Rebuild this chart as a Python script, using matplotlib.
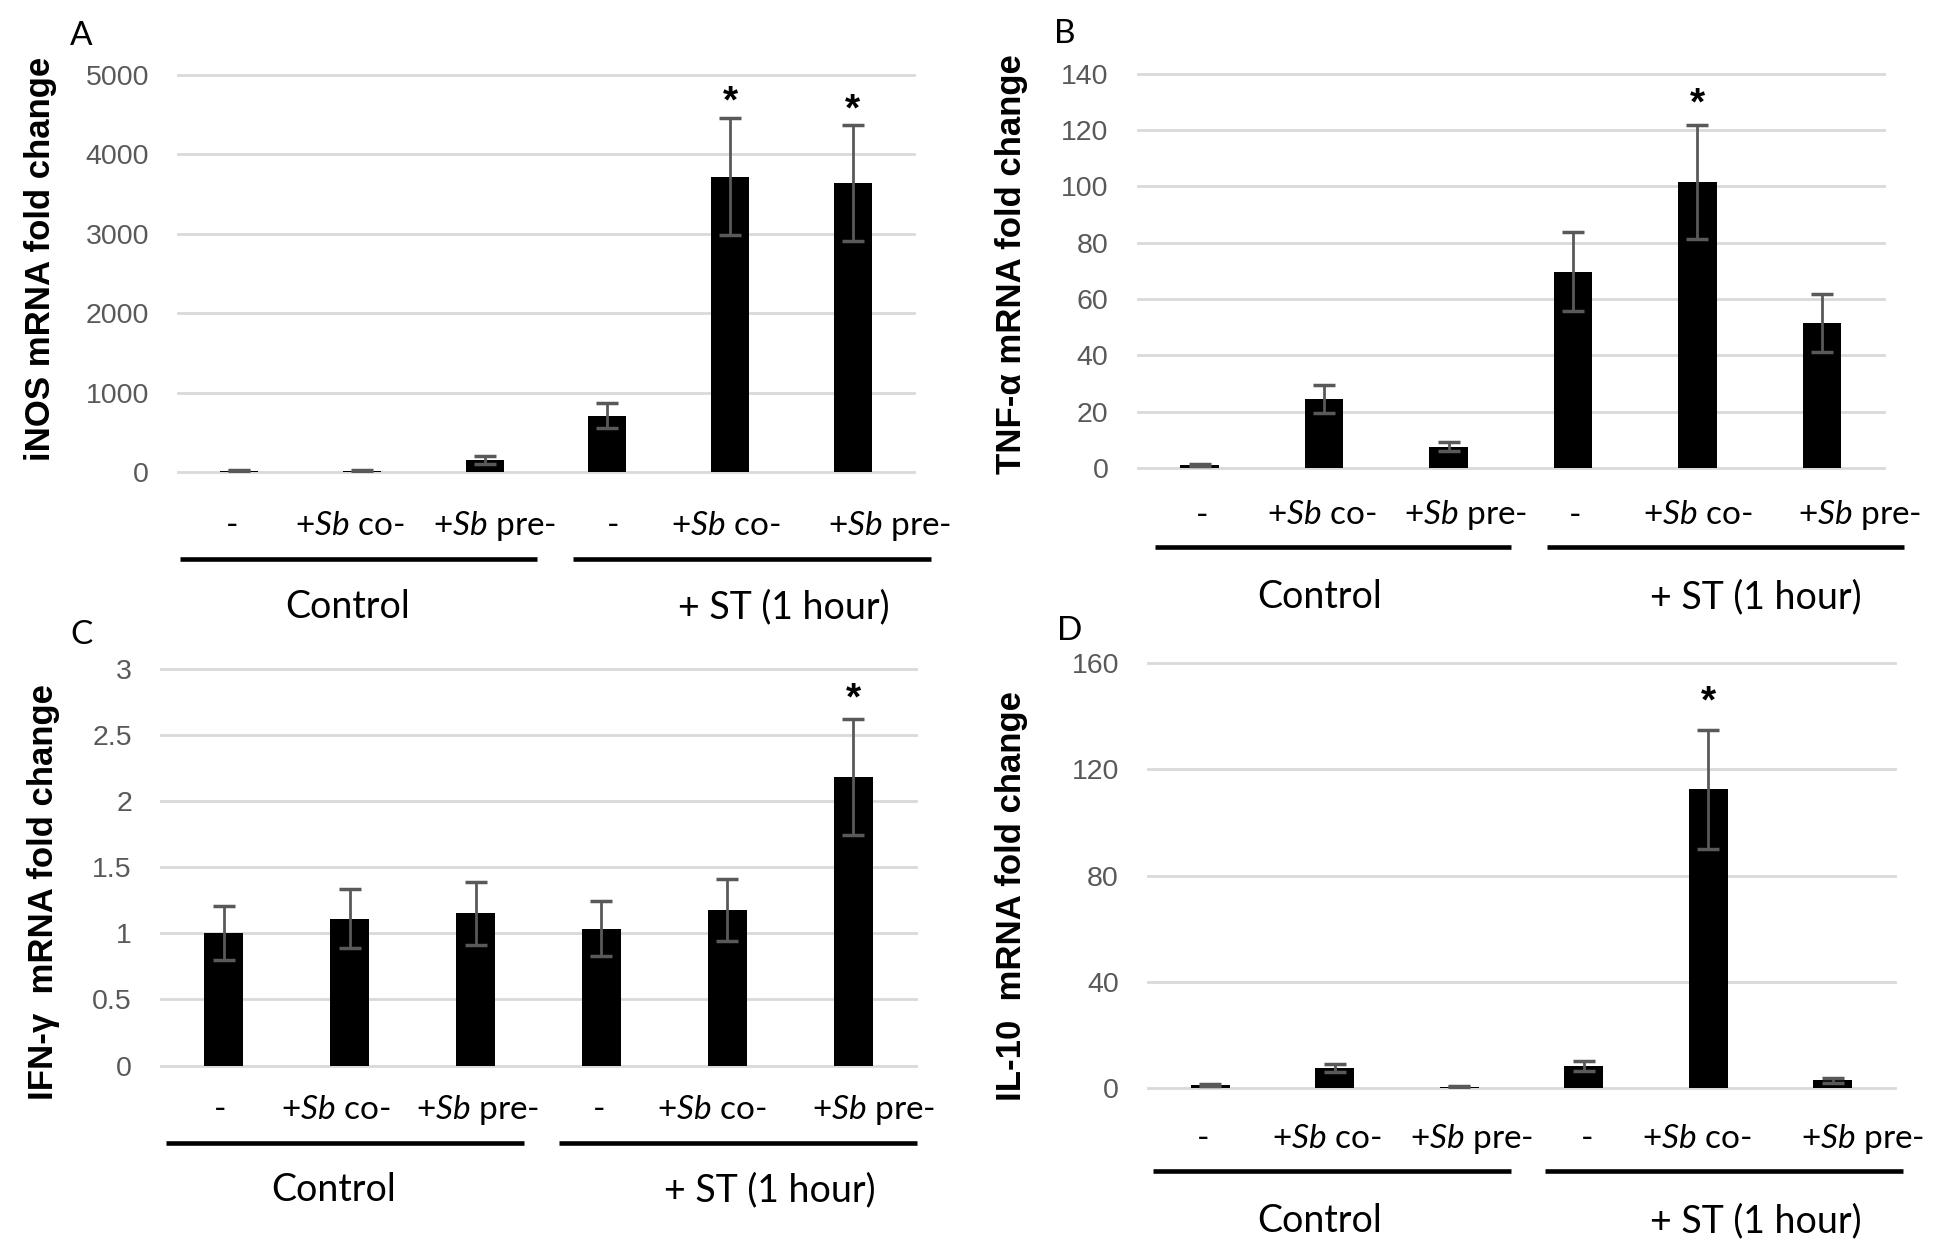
import matplotlib
matplotlib.use("Agg")
import matplotlib.pyplot as plt
from matplotlib.lines import Line2D
import numpy as np

# ---------------- data ----------------
groups = ["Control", "+ ST (1 hour)"]
cat_labels = ["-", "+$\\mathit{Sb}$ co-", "+$\\mathit{Sb}$ pre-",
              "-", "+$\\mathit{Sb}$ co-", "+$\\mathit{Sb}$ pre-"]

A_vals = [15, 18, 149, 708, 3720, 3634]
A_err = [6, 12, 50, 155, 740, 730]
A_sig = [0, 0, 0, 0, 1, 1]
A_ticks = [0, 1000, 2000, 3000, 4000, 5000]
A_ticklabels = ["0", "1000", "2000", "3000", "4000", "5000"]

B_vals = [1.0, 24.5, 7.6, 69.7, 101.5, 51.5]
B_err = [0.4, 5.0, 1.6, 14.0, 20.2, 10.4]
B_sig = [0, 0, 0, 0, 1, 0]
B_ticks = [0, 20, 40, 60, 80, 100, 120, 140]
B_ticklabels = ["0", "20", "40", "60", "80", "100", "120", "140"]

C_vals = [1.0, 1.11, 1.15, 1.035, 1.175, 2.18]
C_err = [0.205, 0.225, 0.238, 0.21, 0.236, 0.44]
C_sig = [0, 0, 0, 0, 0, 1]
C_ticks = [0, 0.5, 1, 1.5, 2, 2.5, 3]
C_ticklabels = ["0", "0.5", "1", "1.5", "2", "2.5", "3"]

D_vals = [1.0, 7.6, 0.5, 8.2, 112.4, 2.9]
D_err = [0.4, 1.5, 0.3, 1.9, 22.4, 1.0]
D_sig = [0, 0, 0, 0, 1, 0]
D_ticks = [0, 40, 80, 120, 160]
D_ticklabels = ["0", "40", "80", "120", "160"]

ylabels = ["iNOS mRNA fold change", "TNF-\u03b1 mRNA fold change",
           "IFN-\u03b3  mRNA fold change", "IL-10  mRNA fold change"]
panel_letters = ["A", "B", "C", "D"]

# ---------------- layout (pixels) ----------------
W, H = 1941, 1253
DPI = 100
px2pt = 72.0 / DPI

plt.rcParams['mathtext.fontset'] = 'custom'
plt.rcParams['mathtext.it'] = 'Lato:italic'
plt.rcParams['mathtext.rm'] = 'Lato'

panels = [
    dict(vals=A_vals, err=A_err, sig=A_sig, ticks=A_ticks, tl=A_ticklabels,
         box=(178, 914, 75, 472), cat_dy=54, cat_dx=[-7, -12, 10, 6, -4, 37],
         line_y=559, lines=[(180, 537), (573, 931)], grp_y=607, grp_x=[348, 784],
         ylab=(41, 259), letter=(81, 36), star_dy=15),
    dict(vals=B_vals, err=B_err, sig=B_sig, ticks=B_ticks, tl=B_ticklabels,
         box=(1137.5, 1884, 73.5, 468), cat_dy=47.5, cat_dx=[2, -2, 17, 2, 0, 38],
         line_y=547, lines=[(1155, 1511), (1547, 1904)], grp_y=597, grp_x=[1320, 1756],
         ylab=(1011, 264), letter=(1065, 34), star_dy=21),
    dict(vals=C_vals, err=C_err, sig=C_sig, ticks=C_ticks, tl=C_ticklabels,
         box=(161, 916, 668.6, 1065.5), cat_dy=44.5, cat_dx=[-4, -14, 2, -2, -15, 21],
         line_y=1143, lines=[(165.6, 524), (559, 917)], grp_y=1190, grp_x=[334, 770],
         ylab=(44, 892), letter=(81, 634.6), star_dy=19),
    dict(vals=D_vals, err=D_err, sig=D_sig, ticks=D_ticks, tl=D_ticklabels,
         box=(1148, 1895, 663, 1088), cat_dy=51, cat_dx=[-7, -8, 12, 3, -11, 30],
         line_y=1170.5, lines=[(1152.5, 1511), (1545, 1903)], grp_y=1221, grp_x=[1320, 1756],
         ylab=(1011, 896), letter=(1070, 630.5), star_dy=27),
]

fig = plt.figure(figsize=(W / DPI, H / DPI), dpi=DPI, facecolor="white")

TICK_COLOR = "#595959"
GRID_COLOR = "#d9d9d9"

for p, ylab, letter in zip(panels, ylabels, panel_letters):
    l, r, t, b = p["box"]
    ax = fig.add_axes([l / W, 1 - b / H, (r - l) / W, (b - t) / H])
    x = np.arange(len(p["vals"]))
    ax.bar(x, p["vals"], width=0.31, color="black", zorder=3)
    ax.errorbar(x, p["vals"], yerr=p["err"], fmt="none", ecolor=TICK_COLOR,
                elinewidth=2.0, capsize=8, capthick=2.5, zorder=4)
    ax.set_xlim(-0.5, len(x) - 0.5)
    ax.set_ylim(0, p["ticks"][-1])
    ax.set_yticks(p["ticks"])
    ax.set_yticklabels(p["tl"], fontsize=20.5, color=TICK_COLOR,
                       fontfamily="Liberation Sans")
    ax.tick_params(axis="y", length=0, pad=29 * px2pt)
    ax.set_xticks([])
    for s in ax.spines.values():
        s.set_visible(False)
    ax.yaxis.grid(True, color=GRID_COLOR, linewidth=2.0, zorder=0)
    ax.set_axisbelow(True)
    for gl in ax.get_ygridlines():
        gl.set_clip_on(False)

    # category labels
    for i, (lab, dx) in enumerate(zip(cat_labels, p["cat_dx"])):
        ax.annotate(lab, xy=(i, 0), xycoords=("data", "axes fraction"),
                    xytext=(dx * px2pt, -p["cat_dy"] * px2pt), textcoords="offset points",
                    ha="center", va="center", fontsize=24, fontfamily="Lato",
                    color="black", annotation_clip=False)

    # significance asterisks
    for i, (v, e, s) in enumerate(zip(p["vals"], p["err"], p["sig"])):
        if s:
            ax.annotate("*", xy=(i, v + e), xytext=(0, p["star_dy"] * px2pt),
                        textcoords="offset points", ha="center", va="center",
                        fontsize=28, fontweight="bold", fontfamily="Liberation Sans",
                        color="black", annotation_clip=False)

    # group lines
    for (x1, x2) in p["lines"]:
        fig.add_artist(Line2D([x1 / W, x2 / W], [1 - p["line_y"] / H] * 2,
                              transform=fig.transFigure, color="black",
                              linewidth=3.3, solid_capstyle="butt"))
    for gx, g in zip(p["grp_x"], groups):
        fig.text(gx / W, 1 - p["grp_y"] / H, g, ha="center", va="center",
                 fontsize=27, fontfamily="Lato", color="black")

    fig.text(p["ylab"][0] / W, 1 - p["ylab"][1] / H, ylab, rotation=90,
             ha="center", va="center", fontsize=25, fontweight="bold",
             fontfamily="Liberation Sans", color="black")
    fig.text(p["letter"][0] / W, 1 - p["letter"][1] / H, letter, ha="center",
             va="center", fontsize=24, fontfamily="Lato", color="black")

fig.savefig("out.png", dpi=DPI, facecolor="white")
